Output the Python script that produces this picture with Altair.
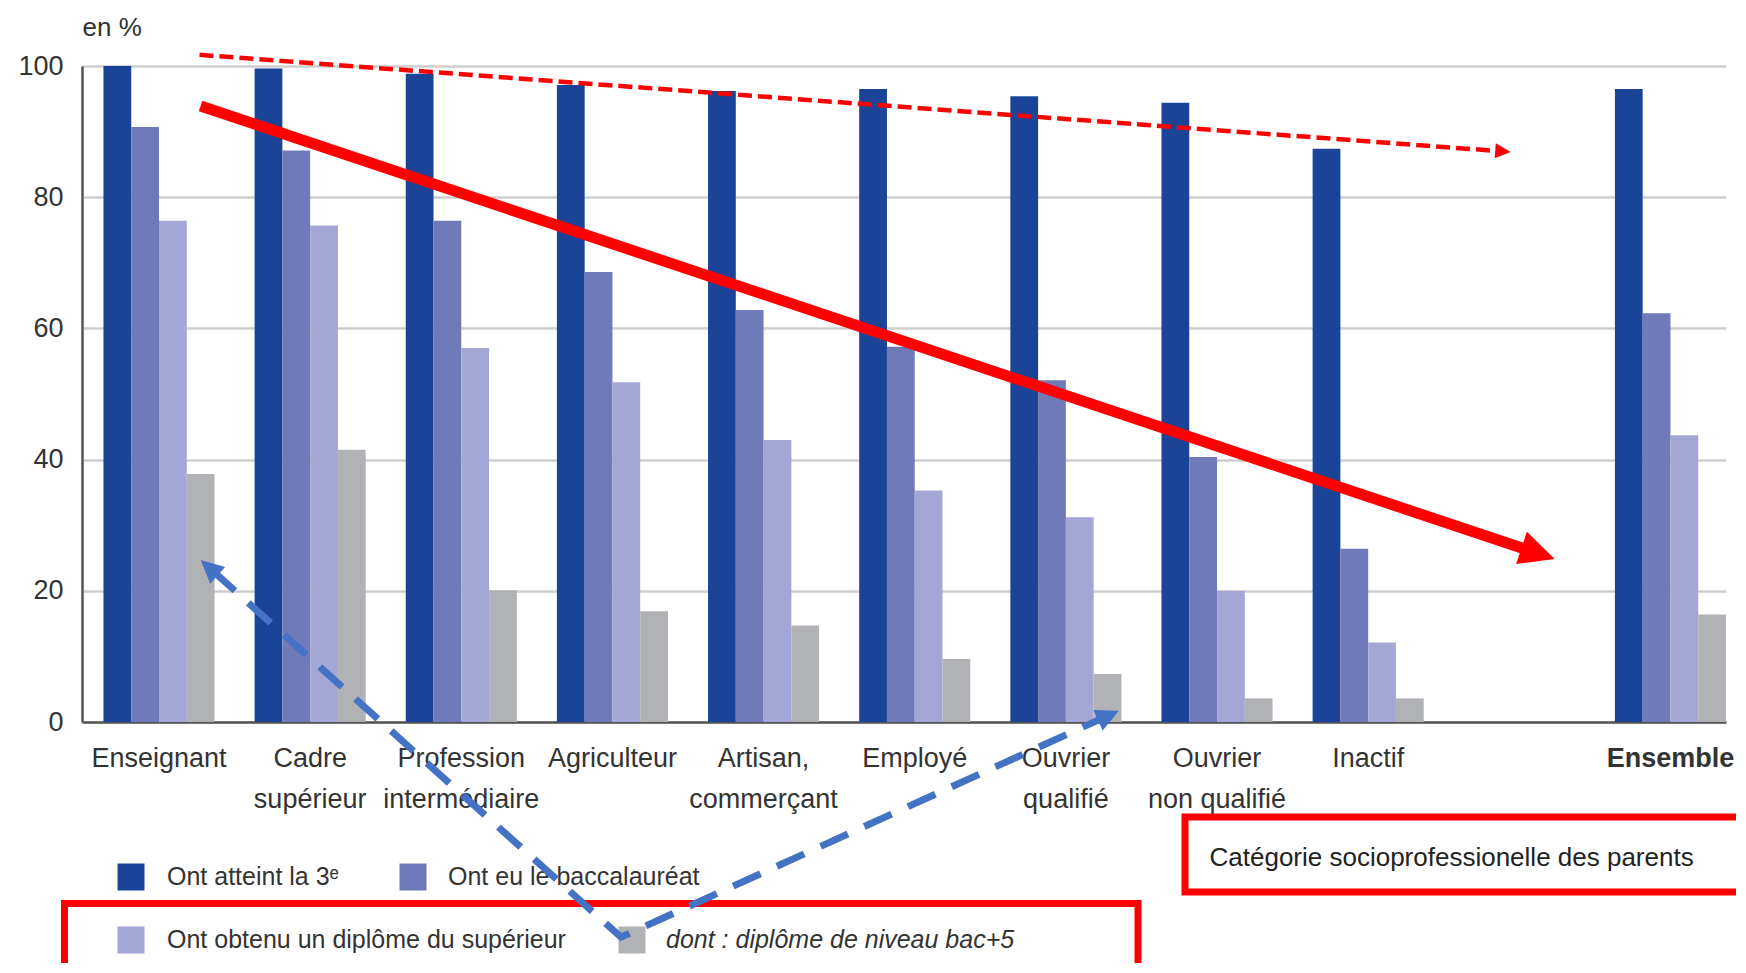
import math
import altair as alt
import pandas as pd

# ---------------- data ----------------
categories = ["Enseignant", "Cadre supérieur", "Profession intermédiaire", "Agriculteur",
              "Artisan, commerçant", "Employé", "Ouvrier qualifié", "Ouvrier non qualifié",
              "Inactif", "Ensemble"]
series = ["Ont atteint la 3ᵉ", "Ont eu le baccalauréat",
          "Ont obtenu un diplôme du supérieur", "dont : diplôme de niveau bac+5"]
reached_3e = [100.0, 99.6, 98.8, 97.1, 96.2, 96.5, 95.4, 94.4, 87.4, 96.5]
baccalaureat = [90.7, 87.1, 76.4, 68.6, 62.8, 57.2, 52.1, 40.4, 26.4, 62.3]
superieur = [76.4, 75.7, 57.0, 51.8, 43.0, 35.3, 31.2, 20.0, 12.1, 43.7]
bac_plus_5 = [37.8, 41.5, 20.1, 16.9, 14.7, 9.6, 7.3, 3.6, 3.6, 16.4]
colors = ["#1b4499", "#717ab8", "#a4a7d5", "#b1b2b6"]
y_ticks = [0, 20, 40, 60, 80, 100]

# annotation overlays (in category-slot units / percent)
red_arrow = [(0.775, 93.9), (9.734, 24.85)]
red_dashed_arrow = [(0.768, 101.7), (9.443, 86.9)]
blue_arrows = [(0.775, 24.7), (3.557, -32.8), (6.851, 1.72)]

# ---------------- layout ----------------
FONT = "Liberation Sans, Arial, sans-serif"
W, H = 1644, 656
PI, PO = 0.265, 0.071
GAP = " "
x_domain = categories[:9] + [GAP] + categories[9:]
N = len(x_domain)
STEP = W / (N - PI + 2 * PO)
U_MIN = PI / 2 - 2 * PO
U_MAX = N - PI / 2
PX_V = H / 100.0

rows = []
for vals, s in zip([reached_3e, baccalaureat, superieur, bac_plus_5], series):
    for c, v in zip(categories, vals):
        rows.append({"categorie": c, "serie": s, "valeur": v})
df_bars = pd.DataFrame(rows)

color_scale = alt.Scale(domain=series, range=colors)


def to_px(p):
    return ((p[0] - U_MIN) * STEP, (100 - p[1]) * PX_V)


def from_px(q):
    return (q[0] / STEP + U_MIN, 100 - q[1] / PX_V)


ARROW = "M0,0L0.97,2L-0.97,2Z"


def head(tip, prev, length, color):
    t, p = to_px(tip), to_px(prev)
    dx, dy = t[0] - p[0], t[1] - p[1]
    d = math.hypot(dx, dy)
    ux, uy = dx / d, dy / d
    end = from_px((t[0] - 0.7 * length * ux, t[1] - 0.7 * length * uy))
    ang = math.degrees(math.atan2(dx, -dy)) % 360
    return end, {"u": tip[0], "v": tip[1], "angle": ang, "size": length ** 2, "color": color}


heads = []
e1, h1 = head(red_arrow[1], red_arrow[0], 35, "#ff0000")
heads.append(h1)
df_red = pd.DataFrame([{"u": red_arrow[0][0], "v": red_arrow[0][1], "k": 0},
                       {"u": e1[0], "v": e1[1], "k": 1}])
e2, h2 = head(red_dashed_arrow[1], red_dashed_arrow[0], 15.5, "#ff0000")
heads.append(h2)
df_red_d = pd.DataFrame([{"u": red_dashed_arrow[0][0], "v": red_dashed_arrow[0][1], "k": 0},
                         {"u": e2[0], "v": e2[1], "k": 1}])
e3, h3 = head(blue_arrows[0], blue_arrows[1], 23, "#4472c4")
e4, h4 = head(blue_arrows[2], blue_arrows[1], 23, "#4472c4")
heads += [h3, h4]
df_blue = pd.DataFrame([{"u": e3[0], "v": e3[1], "k": 0},
                        {"u": blue_arrows[1][0], "v": blue_arrows[1][1], "k": 1},
                        {"u": e4[0], "v": e4[1], "k": 2}])
df_heads = pd.DataFrame(heads)

# legend layout (pixels relative to plot origin)
legend_pos = pd.DataFrame({
    "serie": series,
    "sx": [49, 331, 49, 550],
    "sy": [811, 811, 874, 874],
    "tx": [85, 366, 85, 584],
    "italic": [False, False, False, True],
})
boxes = pd.DataFrame({"bx": [-17.5, 1103], "bx2": [1056, 1900],
                      "by": [837.5, 751], "by2": [1000, 826]})

# ---------------- chart ----------------
xq = alt.X("u:Q", scale=alt.Scale(domain=[U_MIN, U_MAX], nice=False, zero=False), axis=None)
yq = alt.Y("v:Q", scale=alt.Scale(domain=[0, 100], nice=False, zero=False), axis=None)

label_expr = ("indexof(datum.label, ' ') > 0 ? "
              "[substring(datum.label, 0, indexof(datum.label, ' ')), "
              "substring(datum.label, indexof(datum.label, ' ') + 1)] : datum.label")

bars = alt.Chart(df_bars).mark_bar(clip=False).encode(
    x=alt.X("categorie:N", sort=x_domain,
            scale=alt.Scale(domain=x_domain, paddingInner=PI, paddingOuter=PO, align=1, round=False),
            axis=alt.Axis(title="Catégorie socioprofessionelle des parents", titleX=1127, titleY=135,
                          titleAlign="left", titleBaseline="middle", titleFontSize=26,
                          titleFontWeight="normal", titleColor="#222222",
                          labelExpr=label_expr, labelAngle=0, labelFontSize=27, labelLineHeight=41,
                          labelPadding=23, labelColor="#333333", labelLimit=400, labelOverlap=False,
                          labelFontWeight={"condition": {"test": "datum.value == 'Ensemble'", "value": "bold"},
                                           "value": "normal"},
                          ticks=False, domainColor="#555555", domainWidth=2.5)),
    xOffset=alt.XOffset("serie:N", sort=series, scale=alt.Scale(domain=series)),
    y=alt.Y("valeur:Q", scale=alt.Scale(domain=[0, 100], nice=False),
            axis=alt.Axis(title="en %", titleAngle=0, titleX=0, titleY=-39, titleAlign="left",
                          titleBaseline="middle", titleFontSize=26, titleFontWeight="normal",
                          titleColor="#333333", values=y_ticks, labelFontSize=27, labelPadding=19,
                          labelColor="#333333", ticks=False, domainColor="#555555", domainWidth=2.5,
                          gridColor="#cfcfcf", gridWidth=2.5)),
    color=alt.Color("serie:N", scale=color_scale, legend=None),
)

box_layer = alt.Chart(boxes).mark_rect(fill="transparent", stroke="#ff0000", strokeWidth=7, clip=False).encode(
    x=alt.X("bx:Q", scale=None, axis=None), x2="bx2:Q",
    y=alt.Y("by:Q", scale=None, axis=None), y2="by2:Q",
)

swatches = alt.Chart(legend_pos).mark_square(size=729, opacity=1, clip=False).encode(
    x=alt.X("sx:Q", scale=None, axis=None),
    y=alt.Y("sy:Q", scale=None, axis=None),
    color=alt.Color("serie:N", scale=color_scale, legend=None),
)
leg_text = alt.Chart(legend_pos[~legend_pos["italic"]]).mark_text(
    align="left", baseline="middle", fontSize=25, color="#333333", clip=False).encode(
    x=alt.X("tx:Q", scale=None, axis=None), y=alt.Y("sy:Q", scale=None, axis=None), text="serie:N")
leg_text_it = alt.Chart(legend_pos[legend_pos["italic"]]).mark_text(
    align="left", baseline="middle", fontSize=25, fontStyle="italic", color="#333333", clip=False).encode(
    x=alt.X("tx:Q", scale=None, axis=None), y=alt.Y("sy:Q", scale=None, axis=None), text="serie:N")

blue_line = alt.Chart(df_blue).mark_line(color="#4472c4", strokeWidth=7, strokeDash=[30, 18],
                                         strokeCap="butt", clip=False).encode(x=xq, y=yq, order="k:Q")
red_line = alt.Chart(df_red).mark_line(color="#ff0000", strokeWidth=11, strokeCap="butt",
                                       clip=False).encode(x=xq, y=yq, order="k:Q")
red_dash = alt.Chart(df_red_d).mark_line(color="#ff0000", strokeWidth=4.5, strokeDash=[14, 6],
                                         strokeCap="butt", clip=False).encode(x=xq, y=yq, order="k:Q")
head_layer = alt.Chart(df_heads).mark_point(shape=ARROW, filled=True, opacity=1, strokeWidth=0,
                                            clip=False).encode(
    x=xq, y=yq,
    angle=alt.Angle("angle:Q", scale=None),
    size=alt.Size("size:Q", scale=None),
    color=alt.Color("color:N", scale=None),
)

chart = alt.layer(
    bars, box_layer, swatches, leg_text, leg_text_it, blue_line, red_line, red_dash, head_layer
).resolve_scale(x="independent", y="independent").properties(
    width=W, height=H,
    padding={"left": 74, "top": 58, "right": 10, "bottom": 241},
    autosize=alt.AutoSizeParams(type="none"),
).configure(font=FONT).configure_view(stroke="transparent")

chart.save("out.html", embed_options={"renderer": "svg", "actions": False})
